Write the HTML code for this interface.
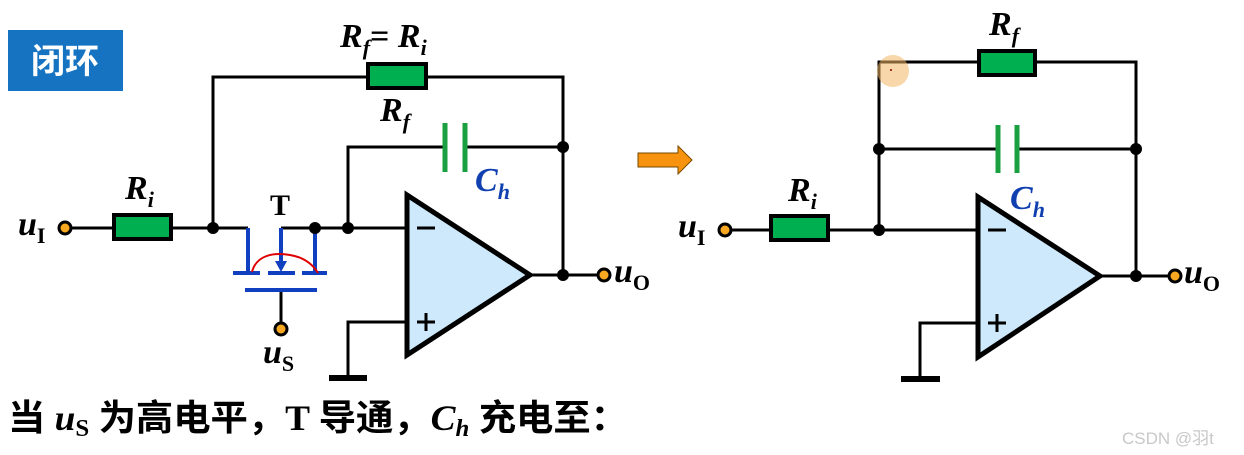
<!DOCTYPE html>
<html><head><meta charset="utf-8"><style>
html,body{margin:0;padding:0;background:#fff;}
svg{display:block;}
.it{font-family:"Liberation Serif",serif;font-style:italic;font-weight:bold;}
.rm{font-family:"Liberation Serif",serif;font-weight:bold;}
</style></head><body>
<svg width="1244" height="455" viewBox="0 0 1244 455" xmlns="http://www.w3.org/2000/svg">
<rect x="8" y="30" width="115" height="61" fill="#1673c2"/>
<text x="65" y="73" text-anchor="middle" font-family="'Liberation Sans','Noto Sans CJK SC',sans-serif" font-weight="bold" font-size="34" fill="#fff">闭环</text>

<g stroke="#000" stroke-width="3" fill="none">
<polyline points="213,228 213,77 563,77 563,275"/>
<polyline points="348,228 348,147 563,147"/>
<line x1="71" y1="228" x2="248" y2="228"/>
<line x1="281" y1="228" x2="407" y2="228"/>
<line x1="530" y1="275" x2="598" y2="275"/>
<polyline points="407,322 348,322 348,377"/>
<line x1="281" y1="290" x2="281" y2="324"/>
<polyline points="879,230 879,62 1136,62 1136,276"/>
<line x1="879" y1="149" x2="1136" y2="149"/>
<line x1="731" y1="230" x2="978" y2="230"/>
<line x1="1100" y1="276" x2="1169" y2="276"/>
<polyline points="978,323 920,323 920,379"/>
</g>
<rect x="329" y="375" width="38" height="6" fill="#000"/>
<rect x="901" y="376" width="39" height="6" fill="#000"/>

<g fill="#00b050" stroke="#000" stroke-width="4">
<rect x="368" y="64" width="58" height="24"/>
<rect x="114" y="215" width="57" height="24"/>
<rect x="979" y="51" width="56" height="24"/>
<rect x="771" y="216" width="57" height="24"/>
</g>
<rect x="447" y="140" width="16" height="14" fill="#fff"/>
<rect x="1000" y="142" width="15" height="14" fill="#fff"/>
<g stroke="#1aa040" stroke-width="5">
<line x1="445" y1="123" x2="445" y2="172"/><line x1="465" y1="123" x2="465" y2="172"/>
<line x1="998" y1="125" x2="998" y2="173"/><line x1="1017" y1="125" x2="1017" y2="173"/>
</g>

<polygon points="407,195 407,355 530,275" fill="#cde9fb" stroke="#000" stroke-width="5"/>
<polygon points="978,197 978,357 1100,276" fill="#cde9fb" stroke="#000" stroke-width="5"/>
<g stroke="#000" stroke-width="3">
<line x1="417" y1="228" x2="435" y2="228"/><line x1="417" y1="322" x2="435" y2="322"/><line x1="426" y1="313" x2="426" y2="331"/>
<line x1="988" y1="230" x2="1006" y2="230"/><line x1="988" y1="323" x2="1006" y2="323"/><line x1="997" y1="314" x2="997" y2="332"/>
</g>

<g stroke="#1040c0" stroke-width="4" fill="none">
<line x1="248" y1="228" x2="248" y2="273"/>
<line x1="281" y1="228" x2="281" y2="262"/>
<line x1="315" y1="228" x2="315" y2="273"/>
<line x1="233" y1="273" x2="260" y2="273"/>
<line x1="268" y1="273" x2="295" y2="273"/>
<line x1="302" y1="273" x2="327" y2="273"/>
<line x1="245" y1="290" x2="317" y2="290"/>
</g>
<polygon points="275,261 287,261 281,272" fill="#1040c0"/>
<path d="M252,272 C256,256 272,252 290,255 C302,257 312,263 318,273" stroke="#e00000" stroke-width="2" fill="none"/>

<g fill="#000">
<circle cx="213" cy="228" r="6"/><circle cx="315" cy="228" r="6"/><circle cx="348" cy="228" r="6"/>
<circle cx="563" cy="147" r="6"/><circle cx="563" cy="275" r="6"/>
<circle cx="879" cy="149" r="6"/><circle cx="879" cy="230" r="6"/>
<circle cx="1136" cy="149" r="6"/><circle cx="1136" cy="276" r="6"/>
</g>
<g fill="#f7a820" stroke="#000" stroke-width="3">
<circle cx="65" cy="228" r="6"/><circle cx="604" cy="275" r="6"/><circle cx="281" cy="329" r="6"/>
<circle cx="725" cy="230" r="6"/><circle cx="1175" cy="276" r="6"/>
</g>

<polygon points="638,153 678,153 678,146 692,160 678,174 678,167 638,167" fill="#f7930e" stroke="#7a4a00" stroke-width="1"/>
<circle cx="893" cy="71" r="16" fill="#f3b764" opacity="0.55"/>
<circle cx="891" cy="70" r="1" fill="#800"/>

<g font-size="34">
<text x="340" y="47" class="it">R<tspan font-size="22" dy="8">f</tspan><tspan dy="-8" class="rm" font-style="normal">= </tspan>R<tspan font-size="22" dy="8">i</tspan></text>
<text x="380" y="121" class="it">R<tspan font-size="22" dy="8">f</tspan></text>
<text x="125" y="199" class="it">R<tspan font-size="22" dy="8">i</tspan></text>
<text x="475" y="191" class="it" fill="#1040b0">C<tspan font-size="22" dy="8">h</tspan></text>
<text x="270" y="215" class="rm" font-size="30">T</text>
<text x="18" y="235" class="it">u<tspan font-size="22" dy="8" class="rm" font-style="normal">I</tspan></text>
<text x="614" y="282" class="it">u<tspan font-size="22" dy="8" class="rm" font-style="normal">O</tspan></text>
<text x="263" y="363" class="it">u<tspan font-size="22" dy="8" class="rm" font-style="normal">S</tspan></text>
<text x="989" y="35" class="it">R<tspan font-size="22" dy="8">f</tspan></text>
<text x="788" y="201" class="it">R<tspan font-size="22" dy="8">i</tspan></text>
<text x="1010" y="209" class="it" fill="#1040b0">C<tspan font-size="22" dy="8">h</tspan></text>
<text x="678" y="237" class="it">u<tspan font-size="22" dy="8" class="rm" font-style="normal">I</tspan></text>
<text x="1184" y="283" class="it">u<tspan font-size="22" dy="8" class="rm" font-style="normal">O</tspan></text>
</g>
<text x="8" y="430" font-family="'Liberation Serif','Noto Sans CJK SC',sans-serif" font-weight="bold" font-size="36" textLength="620" lengthAdjust="spacingAndGlyphs">当 <tspan font-style="italic">u</tspan><tspan font-size="24" dy="6">S</tspan><tspan dy="-6"> 为高电平，T 导通，</tspan><tspan font-style="italic">C</tspan><tspan font-size="24" font-style="italic" dy="6">h</tspan><tspan dy="-6"> 充电至：</tspan></text>
<text x="1122" y="444" font-family="'Liberation Sans','Noto Sans CJK SC',sans-serif" font-size="17" fill="#c8c8c8">CSDN @羽t</text>
</svg>
</body></html>
